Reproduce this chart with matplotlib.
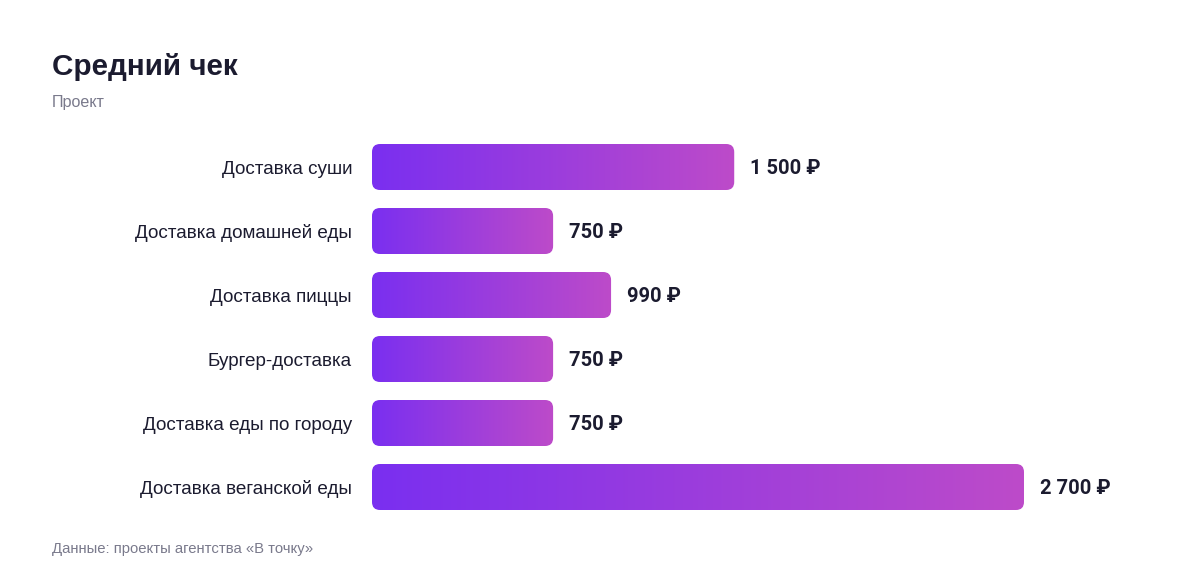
import numpy as np
import matplotlib
matplotlib.use("Agg")
import matplotlib.pyplot as plt
from matplotlib.patches import FancyBboxPatch
from matplotlib.colors import LinearSegmentedColormap

categories = ["Доставка суши", "Доставка домашней еды", "Доставка пиццы",
              "Бургер-доставка", "Доставка еды по городу", "Доставка веганской еды"]
values = [1500, 750, 990, 750, 750, 2700]
value_labels = ["1 500 ₽", "750 ₽", "990 ₽", "750 ₽", "750 ₽", "2 700 ₽"]
title = "Средний чек"
subtitle = "Проект"
footer = "Данные: проекты агентства «В точку»"

W, H = 1200, 584
fig = plt.figure(figsize=(W / 100, H / 100), dpi=100)
fig.patch.set_facecolor("white")

ax_left, ax_right = 372, 1024
ax_top, ax_bot = 135, 519
ax = fig.add_axes([ax_left / W, 1 - ax_bot / H, (ax_right - ax_left) / W, (ax_bot - ax_top) / H])
xmax = 2700
ax.set_xlim(0, xmax)
ax.set_ylim(len(categories) - 0.5, -0.5)
ax.axis("off")

cmap = LinearSegmentedColormap.from_list("g", ["#7a2ff0", "#bd4bc9"])
grad = np.linspace(0, 1, 256).reshape(1, -1)

xpp = xmax / (ax_right - ax_left)          # data x per pixel
ypp = 1.0 / ((ax_bot - ax_top) / len(categories))  # data y per pixel
bar_h = 46 * ypp
radius_px = 8

text_color = "#1b1b2f"
for i, (v, lab) in enumerate(zip(values, value_labels)):
    patch = FancyBboxPatch((0, i - bar_h / 2), v, bar_h,
                           boxstyle=f"round,pad=0,rounding_size={radius_px * xpp}",
                           mutation_aspect=ypp / xpp,
                           facecolor="none", edgecolor="none")
    ax.add_patch(patch)
    im = ax.imshow(grad, cmap=cmap, aspect="auto",
                   extent=(0, v, i + bar_h / 2, i - bar_h / 2), interpolation="bilinear")
    im.set_clip_path(patch)
    ax.text(v + 16 * xpp, i + 2 * ypp, lab, ha="left", va="center", fontsize=14.5,
            fontweight="bold", color=text_color,
            family=["Roboto", "DejaVu Sans"], clip_on=False)
    fig.text(352 / W, 1 - (ax_top + 34 + 64 * i) / H, categories[i], ha="right", va="center",
             fontsize=13.6, color=text_color, family=["Liberation Sans", "DejaVu Sans"])

fig.text(52 / W, 1 - 67 / H, title, ha="left", va="center", fontsize=21.3,
         fontweight="bold", color=text_color, family=["Liberation Sans", "DejaVu Sans"])
fig.text(52 / W, 1 - 103 / H, subtitle, ha="left", va="center", fontsize=11.6,
         color="#7a7a8c", family=["Liberation Sans", "DejaVu Sans"])
fig.text(52 / W, 1 - 549 / H, footer, ha="left", va="center", fontsize=10.7,
         color="#7a7a8c", family=["Liberation Sans", "DejaVu Sans"])

fig.savefig("out.png", dpi=100, facecolor="white")
